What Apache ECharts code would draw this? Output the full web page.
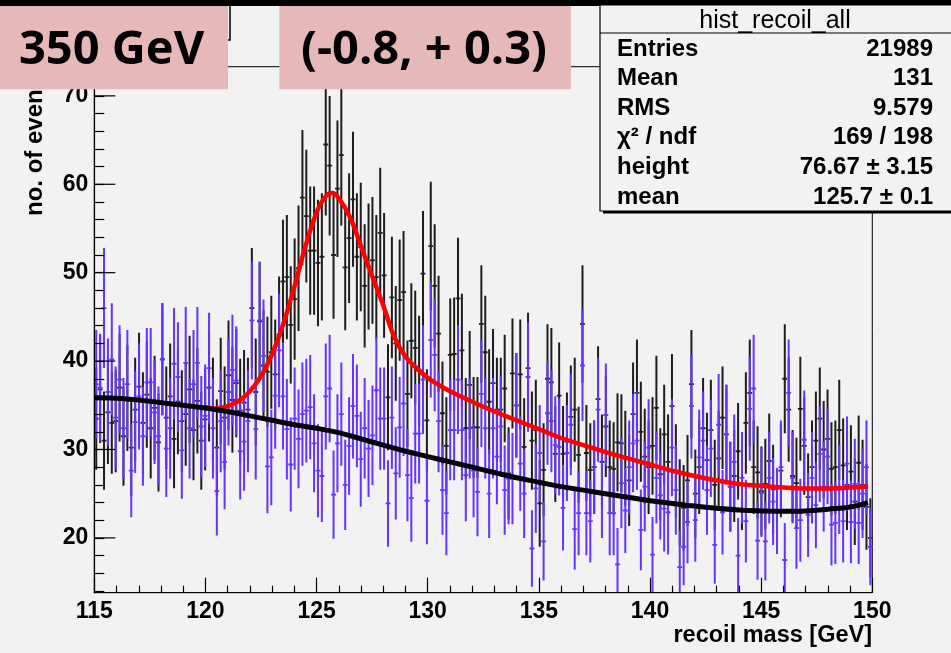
<!DOCTYPE html>
<html><head><meta charset="utf-8">
<script src="https://cdn.jsdelivr.net/npm/echarts@6/dist/echarts.min.js"></script>
<style>html,body{margin:0;padding:0;background:#f2f2f2;}#c{width:951px;height:653px;}</style>
</head><body><div id="c"></div>
<script>
// ---- axis definition ----
const xMin = 115, xMax = 150, binWidth = 0.175;
const yMin = 13.8, yMax = 73.3;
const yMajorTicks = [20, 30, 40, 50, 60, 70];
const yMinorTicks = [14, 16, 18, 20, 22, 24, 26, 28, 30, 32, 34, 36, 38, 40, 42, 44, 46, 48, 50, 52, 54, 56, 58, 60, 62, 64, 66, 68, 70, 72];

// ---- histogram contents (200 bins, 115-150 GeV) ----
// signal + background sample (black)
const sigBkg = [
  33.5, 36.8, 31.0, 34.2, 33.0, 33.2, 37.0, 31.5, 35.8, 30.2,
  34.5, 37.1, 33.0, 36.2, 32.4, 34.7, 30.8, 40.2, 33.6, 36.0,
  31.2, 35.4, 33.2, 34.0, 36.8, 32.2, 35.5, 31.0, 33.4, 37.0,
  34.5, 30.2, 36.6, 33.6, 38.4, 35.6, 37.5, 34.4, 35.3, 34.5,
  46.0, 36.5, 44.5, 39.5, 38.8, 41.0, 38.5, 43.0, 49.0, 49.5,
  44.1, 47.0, 50.5, 58.5, 56.4, 52.5, 52.5, 51.1, 51.8, 64.5,
  62.1, 52.0, 59.5, 63.3, 50.6, 53.9, 58.3, 51.8, 52.9, 48.5,
  50.7, 51.4, 49.5, 54.5, 49.7, 35.9, 47.2, 42.0, 46.9, 47.8,
  36.3, 42.3, 41.5, 38.9, 49.9, 33.3, 53.0, 48.5, 43.1, 34.1,
  30.4, 40.7, 40.8, 47.1, 41.2, 32.4, 37.3, 32.5, 32.5, 44.2,
  41.0, 35.4, 37.5, 34.5, 34.5, 36.9, 27.3, 38.6, 35.0, 38.5,
  30.3, 39.2, 31.0, 32.2, 23.9, 27.7, 38.0, 37.6, 29.5, 36.1,
  29.5, 30.9, 33.7, 34.5, 29.4, 44.2, 29.6, 27.7, 28.0, 35.7,
  28.6, 32.6, 28.0, 27.8, 30.8, 30.7, 29.0, 26.5, 34.0, 36.4,
  32.0, 29.2, 28.0, 30.4, 34.7, 27.2, 31.7, 28.6, 34.9, 27.6,
  24.0, 23.4, 26.5, 37.4, 25.0, 28.0, 32.4, 28.8, 32.2, 26.0,
  29.0, 33.6, 31.7, 25.8, 27.0, 29.8, 26.0, 33.0, 36.4, 28.0,
  27.4, 25.3, 26.1, 28.7, 25.5, 23.0, 27.6, 38.0, 34.5, 27.0,
  26.2, 34.6, 30.4, 24.6, 28.0, 31.0, 33.5, 30.0, 31.2, 27.8,
  28.0, 32.2, 28.2, 26.0, 27.5, 24.1, 28.5, 26.0, 23.5, 20.0
];
// background-only sample (blue)
const bkgOnly = [
  37.4, 37.0, 46.0, 36.5, 40.2, 33.6, 37.9, 32.4, 37.4, 27.6,
  33.1, 36.0, 31.5, 37.6, 37.6, 34.2, 31.5, 40.2, 30.1, 32.4,
  39.7, 38.2, 29.9, 39.8, 32.4, 37.4, 39.8, 32.6, 33.8, 39.2,
  32.4, 25.3, 33.2, 28.6, 36.5, 39.0, 37.8, 29.8, 30.9, 33.2,
  44.6, 32.3, 44.6, 40.6, 28.1, 29.1, 36.1, 41.2, 36.0, 32.3,
  28.3, 33.5, 31.2, 34.0, 34.4, 34.8, 30.7, 27.6, 27.0, 36.0,
  36.9, 24.9, 30.7, 34.0, 26.0, 30.4, 34.9, 33.8, 28.9, 32.4,
  30.1, 31.6, 36.7, 33.5, 33.5, 23.9, 33.6, 27.3, 32.5, 35.2,
  27.1, 24.5, 31.8, 31.8, 37.9, 24.2, 42.4, 40.7, 33.2, 25.4,
  22.8, 32.2, 32.2, 37.9, 32.2, 27.1, 32.4, 27.6, 25.2, 36.3,
  32.4, 25.0, 32.4, 29.2, 32.6, 25.4, 26.7, 26.7, 35.0, 28.4,
  25.0, 38.2, 18.8, 25.6, 29.6, 19.6, 34.1, 33.2, 30.5, 30.3,
  23.4, 29.6, 32.8, 21.0, 22.8, 39.5, 22.8, 21.9, 28.0, 34.5,
  25.0, 33.9, 22.8, 22.8, 17.0, 26.2, 23.1, 28.0, 30.7, 31.0,
  20.9, 25.8, 30.2, 18.1, 26.8, 24.8, 23.3, 22.9, 30.2, 25.4,
  16.7, 19.0, 21.8, 34.9, 22.0, 29.1, 31.0, 25.4, 30.1, 19.2,
  32.8, 22.9, 31.7, 25.8, 28.6, 18.0, 26.8, 21.9, 34.6, 36.9,
  19.7, 25.1, 19.6, 26.8, 24.1, 23.1, 28.0, 17.5, 36.4, 26.8,
  21.1, 22.0, 31.1, 22.6, 26.8, 23.7, 29.5, 25.8, 29.2, 21.5,
  21.7, 25.5, 21.9, 28.4, 21.8, 26.1, 21.7, 25.0, 28.0, 19.0
];

// ---- fit curves ----
const redFitX = [120.0, 120.5, 121.0, 121.5, 122.0, 122.5, 123.0, 123.5, 124.0, 124.5, 125.0, 125.4, 125.7, 126.0, 126.5, 127.0, 127.5, 128.0, 128.5, 129.0, 129.5, 130.0, 130.5, 131.0, 132.0, 133.0, 134.0, 135.0, 136.0, 137.0, 138.0, 139.0, 140.0, 141.0, 142.0, 143.0, 144.0, 145.0, 146.0, 147.0, 148.0, 149.0, 149.8];
const redFitY = [34.75, 34.65, 34.9, 35.5, 36.6, 38.3, 40.8, 44.2, 48.4, 53.0, 56.8, 58.6, 59.0, 58.4, 56.3, 53.0, 49.6, 46.3, 42.7, 40.5, 39.2, 38.1, 37.3, 36.6, 35.4, 34.3, 33.3, 32.3, 31.3, 30.5, 29.7, 29.0, 28.3, 27.6, 27.0, 26.5, 26.1, 25.9, 25.7, 25.6, 25.6, 25.7, 25.8];
const bkgFitX = [115, 116, 117, 118, 119, 120, 121, 122, 123, 124, 125, 126, 127, 128, 129, 130, 131, 132, 133, 134, 135, 136, 137, 138, 139, 140, 141, 142, 143, 144, 145, 146, 147, 148, 149, 149.8];
const bkgFitY = [35.85, 35.8, 35.6, 35.3, 35.0, 34.7, 34.3, 33.8, 33.3, 32.8, 32.4, 31.9, 31.2, 30.5, 29.8, 29.2, 28.6, 28.0, 27.4, 26.8, 26.3, 25.8, 25.4, 25.0, 24.6, 24.2, 23.9, 23.6, 23.35, 23.15, 23.05, 23.0, 23.05, 23.25, 23.5, 24.0];

// ---- texts ----
const statsTitle = 'hist_recoil_all';
const statsLabels = ['Entries', 'Mean', 'RMS', '\u03c7\u00b2 / ndf', 'height', 'mean'];
const statsValues = ['21989', '131', '9.579', '169 / 198', '76.67 \u00b1 3.15', '125.7 \u00b1 0.1'];
const xTitle = 'recoil mass [GeV]';
const yTitle = 'no. of events';
const label1 = '350 GeV';
const label2 = '(-0.8, + 0.3)';

const FONT = '"Liberation Sans", Arial, sans-serif';

function toBins(arr) {
  return arr.map((v, i) => [xMin + binWidth * (i + 0.5), v, Math.sqrt(v)]);
}
function errBar(color, lw) {
  return function (params, api) {
    const x = api.value(0), v = api.value(1), e = api.value(2);
    const top = api.coord([x, v + e]);
    const bot = api.coord([x, v - e]);
    const mid = api.coord([x, v]);
    const hw = api.size([binWidth, 0])[0] / 2;
    return {
      type: 'group',
      children: [
        { type: 'line', shape: { x1: mid[0], y1: top[1], x2: mid[0], y2: bot[1] }, style: { stroke: color, lineWidth: lw } },
        { type: 'line', shape: { x1: mid[0] - hw - 0.5, y1: mid[1], x2: mid[0] + hw + 0.5, y2: mid[1] }, style: { stroke: color, lineWidth: 1.8 } }
      ]
    };
  };
}
// long (major) y ticks, drawn inside the frame at the tick values
function majorYTick(params, api) {
  const p = api.coord([xMin, api.value(1)]);
  return { type: 'line', shape: { x1: p[0], y1: p[1], x2: p[0] + 21, y2: p[1] }, style: { stroke: '#000', lineWidth: 1.2 } };
}

const statsRowsY = [49, 78.5, 108, 137.5, 167, 197];
const graphics = [];
graphics.push({ type: 'rect', z: 100, shape: { x: 0, y: 0, width: 951, height: 6 }, style: { fill: '#000' } });
graphics.push({ type: 'rect', z: 99, shape: { x: 120, y: 3, width: 110, height: 37 }, style: { fill: '#f2f2f2', stroke: '#000', lineWidth: 1.5 } });
graphics.push({ type: 'rect', z: 101, shape: { x: 0, y: 6, width: 228, height: 83.3 }, style: { fill: '#e6b9b8' } });
graphics.push({ type: 'rect', z: 101, shape: { x: 279.3, y: 6, width: 291.7, height: 83.3 }, style: { fill: '#e6b9b8' } });
graphics.push({ type: 'text', z: 102, x: 19, y: 51, style: { text: label1, font: 'bold 47px "Open Sans", sans-serif', fill: '#000', align: 'left', verticalAlign: 'middle' } });
graphics.push({ type: 'text', z: 102, x: 424, y: 51, style: { text: label2, font: 'bold 47px "Open Sans", sans-serif', fill: '#000', align: 'center', verticalAlign: 'middle' } });
graphics.push({ type: 'rect', z: 99, shape: { x: 603, y: 9, width: 400, height: 204.5 }, style: { fill: '#000' } });
graphics.push({ type: 'rect', z: 100, shape: { x: 600, y: 5, width: 400, height: 206 }, style: { fill: '#f2f2f2', stroke: '#000', lineWidth: 1.2 } });
graphics.push({ type: 'line', z: 100, shape: { x1: 600, y1: 33, x2: 951, y2: 33 }, style: { stroke: '#000', lineWidth: 1.2 } });
graphics.push({ type: 'text', z: 101, x: 775, y: 21, style: { text: statsTitle, font: '25px ' + FONT, fill: '#000', align: 'center', verticalAlign: 'middle' } });
statsLabels.forEach((t, i) => {
  graphics.push({ type: 'text', z: 101, x: 617, y: statsRowsY[i], style: { text: t, font: 'bold 24px ' + FONT, fill: '#000', align: 'left', verticalAlign: 'middle' } });
  graphics.push({ type: 'text', z: 101, x: 933, y: statsRowsY[i], style: { text: statsValues[i], font: 'bold 24px ' + FONT, fill: '#000', align: 'right', verticalAlign: 'middle' } });
});
graphics.push({ type: 'text', z: 50, x: 35, y: 68, rotation: Math.PI / 2, style: { text: yTitle, font: 'bold 24px ' + FONT, fill: '#000', align: 'right', verticalAlign: 'middle' } });
graphics.push({ type: 'text', z: 50, x: 872, y: 636, style: { text: xTitle, font: 'bold 23.5px ' + FONT, fill: '#000', align: 'right', verticalAlign: 'middle' } });

const chart = echarts.init(document.getElementById('c'), null, { renderer: 'canvas' });
chart.setOption({
  animation: false,
  backgroundColor: '#f2f2f2',
  grid: { left: 94.3, right: 78.7, top: 66.7, bottom: 60.3, show: true, borderColor: '#000', borderWidth: 1, backgroundColor: 'transparent' },
  xAxis: {
    type: 'value', min: xMin, max: xMax, interval: 5, z: 10,
    axisLine: { show: true, onZero: false, lineStyle: { color: '#000', width: 1.2 } },
    axisTick: { show: true, inside: true, length: 15, lineStyle: { color: '#000', width: 1.2 } },
    minorTick: { show: true, splitNumber: 5, length: 7, lineStyle: { color: '#000', width: 1.2 } },
    axisLabel: { fontFamily: FONT, fontWeight: 'bold', fontSize: 23, color: '#000', margin: 7 },
    splitLine: { show: false }, minorSplitLine: { show: false }
  },
  yAxis: {
    type: 'value', min: yMin, max: yMax, position: 'left', z: 10,
    axisLine: { show: true, onZero: false, lineStyle: { color: '#000', width: 1.2 } },
    axisTick: { show: true, inside: true, length: 10, customValues: yMinorTicks, lineStyle: { color: '#000', width: 1.2 } },
    axisLabel: { customValues: yMajorTicks, fontFamily: FONT, fontWeight: 'bold', fontSize: 23, color: '#000', margin: 6 },
    splitLine: { show: false }
  },
  series: [
    { type: 'custom', name: 'S+B', renderItem: errBar('#1e1e1e', 2), data: toBins(sigBkg), clip: true, z: 2, encode: { x: 0, y: 1 } },
    { type: 'custom', name: 'B', renderItem: errBar('#6633ff', 2), data: toBins(bkgOnly), clip: true, z: 3, encode: { x: 0, y: 1 } },
    { type: 'line', name: 'fit S+B', data: redFitX.map((x, i) => [x, redFitY[i]]), smooth: 0.4, showSymbol: false, symbol: 'none', lineStyle: { color: '#ff0000', width: 4.5 }, z: 4 },
    { type: 'line', name: 'fit B', data: bkgFitX.map((x, i) => [x, bkgFitY[i]]), smooth: 0.4, showSymbol: false, symbol: 'none', lineStyle: { color: '#000', width: 5 }, z: 5 },
    { type: 'custom', name: 'yMajorTicks', renderItem: majorYTick, data: yMajorTicks.map(v => [xMin, v]), clip: false, silent: true, z: 10, encode: { x: 0, y: 1 } }
  ],
  graphic: graphics
});
</script>
</body></html>
